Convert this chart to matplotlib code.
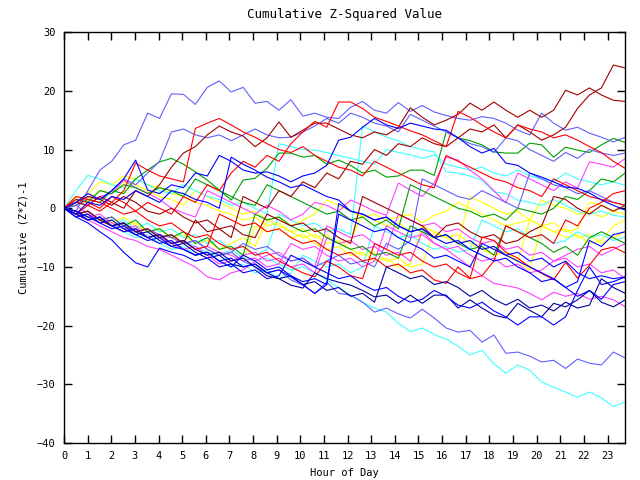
import numpy as np
import matplotlib
matplotlib.use('Agg')
import matplotlib.pyplot as plt

# 48 samples across the day
hours = np.linspace(0, 23.75, 48)

slate_top = [0, -0.5, 3, 6.5, 8, 10.8, 11.6, 16.2,
             15.3, 19.5, 19.4, 17.7, 20.6, 21.7, 19.8, 20.6,
             17.9, 18.2, 16.7, 18.5, 15.7, 16.2, 15.5, 15.3,
             17.2, 18.2, 16.7, 16.2, 18.0, 16.5, 17.5, 16.4,
             15.8, 15.3, 15.0, 15.6, 15.3, 14.5, 13.3, 12.5,
             16.2, 14.5, 13.3, 13.8, 12.8, 12.1, 11.3, 12.1]
darkred_hi = [0, 1, 0.5, 2, 1, 0, 3, 2,
              4, 7, 9.4, 10.5, 12.5, 14, 13, 12.3,
              10.5, 12, 14.7, 12.1, 13.3, 14.5, 14.5, 13.5,
              12.5, 12, 13, 12.5, 13.8, 17.1, 15.5, 14.2,
              15, 16, 17.9, 16.7, 18.1, 16.7, 15.5, 16.7,
              15.5, 16.7, 20.1, 19.3, 20.5, 19.3, 18.4, 18.2]
darkred_top = [0, -1, -0.5, -2, -3, -2.5, -4, -3.5,
               -5, -4.5, -6, -2, -4, -3.5, -5, 2,
               1, 0, 3, 2, 4.5, 3.5, 6, 5,
               8, 7.5, 10, 9, 11, 10.5, 12, 11,
               10.5, 12, 13.5, 13, 14.2, 12, 14.2, 13,
               11.6, 12.5, 13.8, 17, 19.3, 20.5, 24.4, 23.9]
red_a = [0, 1.5, 1, 0, 2, 1, -0.5, 1,
         0, -1, 2, 1, 4, 3, 6, 8,
         7, 9, 8, 11, 13, 14.8, 13.8, 18.1,
         18.1, 17, 15.5, 14.8, 14, 13.2, 12.5, 11.5,
         10.5, 16.5, 15.5, 14.2, 13, 12, 14.2, 13.5,
         13, 12, 12.5, 11.6, 10.5, 9.5, 8, 6.8]
red_b = [0, -1, 0.5, -0.5, 1, 3, 7.7, 6.5,
         5.5, 5, 4.5, 13.6, 14.5, 15.3, 14.2, 13,
         12.1, 11, 10, 9.5, 10.5, 9, 8, 7,
         6.5, 5.5, 8, 7, 6, 5, 4, 3.5,
         9, 8, 7, 6, 5, 4.5, 3.5, 3,
         2, 5, 4, 3, 2, 1.5, 1, 0.5]
red_c = [0, -1, -2, -1.5, -3, -4, -3.5, -5,
         -4.5, -6, -5.5, -7, -6.5, -1, -2, -3,
         -2.5, -4, -3.5, -5, -6, -5.5, -7, -8,
         -7.5, -9, -8.5, -10, -9.5, -11, -10.5, -12.2,
         -12.8, -10, -11.9, -4.9, -5.5, -7.5, -8.5, -10,
         -11.1, -12.2, -9.2, -11.9, -9.7, -7.1, -6.6, -7.6]
red_e = [0, 2, 1.5, 1, 0, -1, -0.5, -2,
         -3, -2.5, -4, -5, -4.5, -6, -7, -6.5,
         -8, -7.5, -9, -10, -11, -11.7, -9, -10,
         -11.5, -12, -6, -7, -8, -7.5, -9, -10,
         -9.5, -11, -12, -11.5, -9, -3, -4, -5,
         -4.5, -6, -2, -3, 0, 1, 2.5, 3]
darkred_c = [0, 1, 2, 1.5, 0.5, 2, 1, -0.5,
             -1, 0, -1.5, -2.5, -2, -3.5, -3, -4.5,
             -5, -1, -2, -3, -2.5, -4, -3.5, -5,
             -6, 2, 1, 0, -1, -2, -3, -5,
             -3, -2.5, -4, -5, -4.5, -6, -5.5, -4,
             -3, 2, 1.5, 0, -1, 0.5, -0.5, 0.5]
cyan_low = [0, -0.5, -1.5, -2, -3, -3.5, -4.5, -4,
            -5, -6, -5.5, -6.5, -7.5, -8, -7, -8.5,
            -9, -8.5, -9.5, -10.5, -10, -11, -12.2, -13.5,
            -14.8, -16, -17, -17.7, -19.6, -21, -20.4, -21.5,
            -22.3, -23.5, -25, -24.2, -26.5, -28.1, -26.7, -27.6,
            -29.6, -30.5, -31.3, -32.2, -31.3, -32.3, -33.8, -33]
cyan_b = [0, -1, -0.5, -2, -3, -2, -3.5, -2.5,
          -4, -3.5, -5, -4.5, -6, -5.5, -7, -6.5,
          -8, -7, -1, -2, -3, -2.5, -4, -3.5,
          -4.5, 14, 13, 12.1, 11.5, 10.5, 10, 9.6,
          6.2, 6, 5.5, 4.8, 2.8, 2.5, 1.4, 1,
          0.5, 1.5, 0.5, -0.5, -1, -0.5, -1.2, -1.5]
cyan_c = [0, 3, 5.6, 5, 4, 3.5, 5, 4,
          3, 2.5, 4, 3, 2, 1.5, 0.5, 1,
          0, -1, 11, 10.5, 10, 9.9, 9.5, 9,
          8.5, 8, 7.5, 10, 9.5, 9.1, 8.5, 9.1,
          7.5, 7, 6.5, 7, 6, 5.5, 6.5, 5.5,
          5, 4.5, 6, 5, 4.5, 4, 4.5, 3.9]
cyan_d = [0, -1, -2, -1.5, -3, -4, -5, -4.5,
          -6, -7, -6.5, -8, -7.5, -9, -10, -9.5,
          -11, -10.5, -12, -11, -8, -9, -10, -9.5,
          -11, -10, -3, -4, -5, -4.5, -6, -7,
          -6.5, -7.5, -7, -2, -3, -4, -3.5, -5,
          -4.5, -6, -5.5, -4, -5, -4.5, -5.5, -4.9]
slate_low = [0, -1, -0.5, -2, -1.5, -3, -4, -3.5,
             -4.5, -5, -6, -5.5, -7, -8, -7.5, -9,
             -10, -11, -10.5, -12.2, -13.1, -14.5, -12.6, -14.5,
             -14.8, -16, -17.7, -17, -18, -18.7, -17.2, -18.7,
             -20.4, -21.1, -20.8, -22.8, -21.6, -24.7, -24.5, -25.2,
             -26.2, -25.9, -27.3, -25.7, -26.4, -26.7, -24.5, -25.5]
slate_b = [0, 0.5, 2, 1.5, 3, 5, 4, 6,
           8, 13, 13.5, 12.5, 12, 12.5, 11.5, 12.5,
           13.5, 12.5, 12, 12.1, 13, 14, 15.3, 14.5,
           16.2, 15.5, 14.5, 14, 13, 16, 15, 14,
           13, 12, 11, 10.5, 9.5, 12, 11.5, 10,
           9, 8, 9.5, 8.5, 10, 9.4, 9, 9.4]
slate_c = [0, -1, -0.5, -2, -3, -2.5, -4, -3.5,
           -5, -4.5, -6, -5.5, -7, -8, -7.5, -6,
           -7, -6.5, -8, -9, -8.5, -10, -9, -8,
           -9.5, -9, -10, -6, -7, -5.5, 5, 4,
           3, 2, 1.5, 3, 2, 1, 0, 6,
           5, 4, 3.5, 2.5, 3, 2, 1, 0.5]
navy_a = [0, -1, -2, -1.5, -3, -2.5, -4, -5,
          -4.5, -6, -5.5, -7, -8, -7.5, -9, -8.5,
          -10, -11.5, -12, -13.1, -13.6, -11, -12, -12.6,
          -13.1, -14, -15.1, -14.8, -16.2, -14.8, -16.2, -14.8,
          -14.8, -17, -15.6, -17, -18.2, -18.7, -16.2, -17.4,
          -18.5, -16.2, -16.8, -15.6, -14, -16, -16.8, -15.6]
navy_b = [0, -0.5, -1.5, -2.5, -2, -3.5, -4.5, -4,
          -5.5, -6.5, -6, -7.5, -8.5, -8, -9.5, -10,
          -9.5, -11, -12, -11.5, -13, -12.5, -14, -13.5,
          -15, -14.5, -16, -10, -11, -12, -11.5, -13,
          -12.5, -13.5, -15, -14, -15.5, -16.5, -15.5, -17,
          -16.5, -17.5, -16, -17, -16.5, -12, -13.5, -14.5]
blue_hi = [0, 1, 2.5, 1.5, 3, 5, 8.2, 3.1,
           2.5, 4, 3.5, 6, 5.5, 9, 8, 6.5,
           6, 6.2, 5.5, 4.5, 5.5, 6, 7.3, 11.6,
           12.1, 13.8, 15.3, 14.2, 13.6, 14.5, 14, 13.5,
           13.3, 12, 10.5, 9.4, 10.2, 7.7, 7.3, 6,
           5.3, 4.5, 3.6, 3.4, 2.6, 1.4, 0.5, -0.3]
blue_dip = [0, -1.5, -2.5, -4, -5.4, -7.5, -9.3, -10,
            -6.8, -7.5, -8, -9, -8.5, -10, -9.5, -11,
            -10.5, -12, -11.5, -8, -9, -10, -11, -12,
            -11.5, -13, -14, -13.5, -15, -16, -15.5, -14,
            -15, -16.5, -17, -16, -17.5, -18.5, -19.9, -18.5,
            -18.5, -19.9, -18.5, -14, -10, -13, -12.5, -11.7]
blue_c = [0, -1, 1, 0.5, 2, 1.5, 3, 2,
          1, 3, 2.5, 1.5, 1, 0, 8.7, 7.5,
          6.5, 5.3, 4.5, 3.5, 4, 3, 2, 1.4,
          -0.5, -1, -2, -1.5, -3, -4, -3.5, -5,
          -4.5, -6, -5.5, -7, -6.5, -8, -7.5, -9,
          -8.5, -10, -9, -11, -12, -11.5, -12, -11.7]
blue_d = [0, -1.5, -1, -2.5, -3.5, -3, -4.5, -5.5,
          -5, -6.5, -7, -8, -7.5, -9, -10, -8,
          -9, -10.5, -10, -11.5, -12.5, -12, -13, -1,
          -2, -3, -4, -3.5, -5, -6, -7, -8.5,
          -8, -9, -10, -6, -7, -8, -9, -10,
          -11, -12, -13.5, -12.5, -5.5, -6.5, -4.5, -4]
blue_e = [0, -0.5, -2, -1.5, -3, -4, -3.5, -5,
          -6, -5.5, -7, -8, -7.5, -9, -8.5, -10,
          -9.5, -11, -10.5, -11.7, -13, -14.5, -13, 0.8,
          -0.5, -1, -2, -1.5, -3, -4, -3.5, -5,
          -6, -5.5, -7, -8, -9, -8.5, -10, -11,
          -12.5, -12, -13.5, -15, -14, -15.5, -13, -12.5]
green_a = [0, 0.5, 1.5, 1, 3, 2.5, 5, 6.5,
           7.9, 8.5, 7.5, 6.2, 4.8, 3.1, 1.4, 4.8,
           5.1, 6.8, 9.4, 9.4, 8.7, 9.0, 7.5, 8.2,
           7.3, 6.0, 6.5, 5.3, 5.5, 6.5, 6.5, 5.6,
           13, 12, 11.5, 10.8, 9.6, 9.4, 9.4, 11.1,
           10.8, 8.7, 10.4, 9.9, 9.5, 10.8, 11.9, 11.2]
green_b = [0, -1, -0.5, -2, -1.5, -3, -2, -4,
           -3.5, -5, -4, -6, -5, -7, -6.5, -8,
           -1, -2, -1.5, -3, -4, -3.5, -5, -6,
           -7, -6.5, -8, -7.5, -8.5, -3, -4, -5,
           -4.5, -6, -7, -6.5, -8, -3, -4, -5,
           -6, -7.5, -6.5, -8, -5, -4, -5, -6]
green_c = [0, 1.5, 1, 3, 2.5, 4, 3.5, 2.5,
           3.5, 3, 2, 5, 4, 3, 2, 1,
           0.5, 4, 3, 2, 1, 0, -1, -0.5,
           -2, -1.5, -3, -2, -3.5, 4, 3, 2,
           1, 0, -0.5, -1.5, -1, -2, 0, -0.5,
           -1, 0, 2, 1.5, 3, 5, 4.5, 6]
magenta_a = [0, -0.5, -1.5, -1, -2.5, -3.5, -3, -5,
             -4.5, -6, -7, -6.5, -8, -9.5, -9, -8,
             -7.5, -9, -8.5, -10, -9.5, -11, -5, -6,
             -5.5, -7, -6.5, -8, -7.5, -9, -4, -5.9,
             -7, -8.5, -10, -11.5, -12.8, -13.2, -13.6, -14.5,
             -15.6, -14.3, -15, -14.5, -15.5, -15, -15.6, -16.8]
magenta_b = [0, -1, -2, -3, -4, -5, -5.5, -6.5,
             -7, -8, -9, -10, -11.7, -12.2, -11, -10.5,
             -9, -8, -7.5, -9, -8.5, -10, -3, -4,
             -5, -4.5, -6, -7, -1, -2, -3, -2.5,
             -4, -3.5, -5, -6, -5.5, -7, -6.5, -8,
             -7.5, -9, -8.5, -10, -9.5, -11, -10.5, -12]
magenta_c = [0, 1, 0.5, 2, 2.5, 4.8, 3.5, 2.6,
             1.5, 0, -0.8, -1.5, 3, 2, 1, 0,
             -1, 0.5, -0.5, -2, -1, 1, 0.5, -0.5,
             1.4, 0.5, -0.5, -1.2, 4.3, 3.1, 2, 4.3,
             8.7, 8.2, 6.5, 5, 3, 0.9, 6, 5,
             4, 3, 4.5, 3.4, 7.9, 7.5, 7, 8.5]
magenta_d = [0, 0.5, -1, -2, -3, -2.5, -4, -3.5,
             -5, -6, -5.5, -7, -6.5, -7.5, -8, -9,
             -8.5, -10, -9.5, -6, -7, -6.5, -8, -9,
             -8.5, -10, -9, -3, -4, -5, -4.5, -6,
             -7, -6.5, -8, -9, -8.5, -10, -9.5, -11,
             -10.5, -9, -8, -7, -6.5, -8, -7, -6]
yellow_a = [0, 2, 1.5, 3, 2.5, 4.5, 4, 3,
            2, 1.5, 0.5, 3, 2, 1, 0, -1,
            -0.5, -2, -1.5, -3, -2, -1, 1.4, 0.5,
            -0.5, -1.5, -1, -2, -1.5, -1, -2.5, -1.2,
            -0.5, 1, 0, -1, -2, -3, -2.5, -2,
            1.4, 0.5, 0, -1, -0.5, -1.5, -0.5, -1]
yellow_b = [0, -0.5, -1.5, -2, -1.5, -3, -2.5, -4,
            -3.5, -5, -4.5, -6, -5.5, -7, -6, -5,
            -6.5, -2, -3, -4, -5, -4.5, -6, -5.5,
            -7, -8, -7.5, -9, -8.5, -10, -9.5, -4,
            -5, -6, -5.5, -7, -6.5, -8, -9, -2,
            -3, -4, -3.5, -5, -4.5, -6, -5, -4]
yellow_c = [0, 1, 2.5, 4.5, 4, 5.5, 5, 4,
            3.5, 2.5, 2, 1, 0.5, -0.5, -1, -2,
            -1.5, -3, -2.5, -4, -3.5, -5, -4.5, -6,
            -5.5, -1, -2, -3, -2.5, -4, -3.5, -5,
            -4.5, -6, 2, 1, 0, -1, -0.5, -2,
            -3, -2.5, -4, -3.5, 1, 0.5, -0.5, 0.5]
yellow_d = [0, -1, -0.5, -2, -2.5, -1.5, -3, -4,
            -3.5, -5, -6, -5.5, -7, -8, -7.5, -9,
            -3, -4, -3.5, -5, -4.5, -6, -7, -6.5,
            -8, -7.5, -9, -8.5, -10, -9.5, -3, -4,
            -5, -4.5, -6, -7, -8, -7.5, -9, -10.5,
            -3, -4, -5, -4.5, -6, -5.5, -3, -2]

RED = '#ff0000'
GREEN = '#00a000'
BLUE = '#0000ff'
MAGENTA = '#ff40ff'
CYAN = '#40ffff'
DARKRED = '#a00000'
YELLOW = '#ffff00'
SLATE = '#6060ff'
NAVY = '#0000a0'

series = [
    (yellow_a, YELLOW), (yellow_b, YELLOW), (yellow_c, YELLOW), (yellow_d, YELLOW),
    (cyan_low, CYAN), (cyan_b, CYAN), (cyan_c, CYAN), (cyan_d, CYAN),
    (magenta_a, MAGENTA), (magenta_b, MAGENTA), (magenta_c, MAGENTA), (magenta_d, MAGENTA),
    (green_a, GREEN), (green_b, GREEN), (green_c, GREEN),
    (slate_top, SLATE), (slate_low, SLATE), (slate_b, SLATE), (slate_c, SLATE),
    (darkred_hi, DARKRED), (darkred_top, DARKRED), (darkred_c, DARKRED),
    (red_a, RED), (red_b, RED), (red_c, RED), (red_e, RED),
    (navy_a, NAVY), (navy_b, NAVY),
    (blue_hi, BLUE), (blue_dip, BLUE), (blue_c, BLUE), (blue_d, BLUE), (blue_e, BLUE),
]

plt.rcParams['font.family'] = 'DejaVu Sans Mono'
plt.rcParams['font.size'] = 7.5

fig = plt.figure(figsize=(6.4, 4.8), dpi=100)
ax = fig.add_axes([0.1, 0.077, 0.877, 0.856])

# thin lines, like the original bitmap output
for values, color in series:
    ax.plot(hours, values, color=color, linewidth=0.8)

ax.set_xlim(0, 23.75)
ax.set_ylim(-40, 30)
ax.set_xticks(range(0, 24))
ax.set_yticks(range(-40, 31, 10))
ax.tick_params(direction='in', length=6, width=1, top=True, right=True, pad=6)
for spine in ax.spines.values():
    spine.set_linewidth(1)

ax.set_title('Cumulative Z-Squared Value', pad=10)
ax.set_xlabel('Hour of Day', labelpad=5)
ax.set_ylabel('Cumulative (Z*Z)-1', labelpad=6)

fig.savefig('out.png', dpi=100)
